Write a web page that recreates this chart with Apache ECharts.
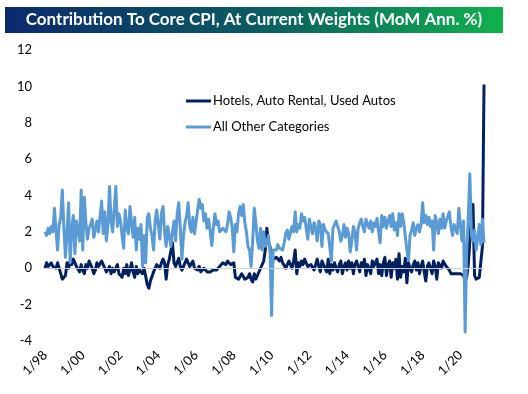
<!DOCTYPE html>
<html><head><meta charset="utf-8">
<script src="https://cdn.jsdelivr.net/npm/echarts@6/dist/echarts.min.js"></script>
<style>html,body{margin:0;padding:0;background:#fff}#c{width:528px;height:394px}</style>
</head><body><div id="c"></div>
<script>
// Monthly, Jan 1998 .. Apr 2021
const startYear = 1998, startMonth = 1, monthCount = 280;
const hotelsAutos = [
 0.0,0.3,0.1,0.2,0.3,0.1,0.2,0.0,0.3,0.2,-0.3,-0.6,
 -0.7,-0.4,0.3,0.0,0.4,0.2,0.5,0.6,0.1,0.0,-0.2,0.2,
 -0.1,-0.3,0.2,0.0,0.4,0.2,0.0,-0.3,-0.1,0.3,0.1,0.0,
 0.4,0.2,0.0,-0.2,-0.1,0.1,-0.3,0.0,-0.2,-0.1,0.2,-0.3,
 -0.2,-0.5,0.0,-0.3,0.2,-0.4,-0.1,0.3,-0.2,-0.5,0.1,-0.3,
 -0.1,-0.2,-0.3,0.0,-0.1,-0.9,-1.1,-0.7,-0.6,-0.2,0.0,0.2,
 0.1,0.0,0.3,0.5,0.3,-0.6,0.2,0.5,0.4,1.4,0.3,0.1,
 0.2,0.55,0.1,-0.1,0.1,0.2,0.5,0.3,0.1,0.2,0.4,0.0,
 0.1,-0.1,0.1,-0.2,-0.1,0.0,-0.1,-0.2,-0.1,-0.2,-0.3,-0.1,
 0.0,-0.1,0.0,0.1,0.2,0.3,0.3,0.2,0.4,0.3,0.2,0.3,
 0.3,-0.5,-0.4,-0.6,-0.5,-0.3,-0.4,-0.6,-0.7,-0.5,-0.3,-0.6,
 -0.75,-0.3,-0.6,-0.4,-0.3,0.0,-0.1,0.4,1.0,2.2,1.4,1.2,
 -0.1,0.5,0.4,0.6,0.5,0.4,0.6,0.3,0.3,0.0,0.2,0.4,
 0.2,0.0,0.4,1.0,-0.3,0.3,0.1,0.4,0.2,0.5,0.3,0.1,
 0.0,0.2,0.1,-0.1,0.0,0.5,0.1,-0.2,0.4,0.2,0.0,-0.2,
 0.5,-0.3,0.2,-0.1,0.3,0.0,-0.2,0.2,0.4,-0.3,0.1,0.3,
 -0.1,0.4,0.0,0.3,-0.3,0.2,0.4,0.1,-0.2,0.3,0.1,0.5,
 -0.4,0.2,0.3,-0.3,0.4,0.1,0.0,0.5,-0.3,0.2,-0.4,0.3,
 0.6,-0.4,0.2,0.4,-0.5,0.3,0.0,0.5,-0.6,0.8,-0.5,0.1,
 -0.2,0.55,-0.8,0.3,0.0,-0.2,0.2,0.4,-0.1,0.3,-0.3,0.1,
 0.4,-0.2,-0.7,0.1,0.3,0.0,-0.3,0.4,0.1,-0.6,0.3,0.2,
 0.0,0.4,0.3,0.1,0.2,-0.1,-0.3,-0.3,-0.3,-0.3,-0.3,-0.3,
 -0.3,-0.3,-0.4,-0.7,-0.5,0.2,1.5,2.8,3.5,-0.4,-0.6,-0.5,
 -0.5,-0.4,1.2,10.1
];
const allOther = [
 2.0,1.8,2.2,1.9,2.3,2.0,3.3,2.1,1.0,2.4,2.8,4.3,
 2.2,0.6,2.0,3.6,0.3,2.2,2.9,0.8,2.6,2.1,1.5,4.3,
 1.0,3.9,2.5,1.6,2.2,2.4,2.7,1.7,2.1,2.6,2.0,1.9,
 3.7,1.9,3.1,1.5,2.4,4.5,2.6,2.0,1.9,4.5,2.3,3.0,
 2.6,1.8,1.1,3.2,2.2,1.9,3.4,2.5,1.7,2.8,1.0,2.2,
 1.6,2.4,0.1,1.8,0.3,2.8,3.0,2.2,1.8,1.0,2.6,3.2,
 2.4,1.6,3.0,3.4,2.0,1.2,2.3,2.4,1.2,2.0,2.6,1.5,
 3.0,3.6,2.2,0.5,1.8,2.5,2.9,3.6,2.3,2.0,2.8,1.9,
 2.0,3.2,3.8,3.3,3.5,2.6,3.0,2.2,2.7,2.0,1.25,2.2,
 3.0,2.4,2.6,2.0,1.9,2.2,2.1,2.0,2.4,3.1,2.8,2.2,
 0.9,2.4,2.0,3.0,3.4,2.9,3.5,2.5,2.0,1.2,1.0,0.1,
 1.5,3.3,2.5,1.5,1.1,2.2,1.0,2.0,1.2,1.4,1.8,1.0,
 -2.6,1.0,0.9,1.0,1.3,1.1,1.2,1.0,1.4,1.9,2.1,1.6,
 1.5,2.3,2.0,3.1,2.0,2.4,2.2,3.0,2.6,2.8,2.9,1.6,
 2.7,2.3,1.9,2.5,2.2,1.5,2.6,2.4,1.2,2.4,2.1,2.2,
 1.9,1.8,0.4,2.2,2.4,2.6,2.5,2.0,1.5,1.8,2.4,1.7,
 2.2,1.9,0.9,1.5,2.3,2.0,1.0,2.2,2.5,2.7,2.3,2.0,
 2.7,2.6,2.2,2.6,2.0,2.5,2.3,2.75,2.0,1.4,2.9,2.3,
 2.8,2.2,2.6,2.9,2.3,3.0,2.1,2.5,1.8,3.0,2.3,3.0,
 2.5,2.5,1.0,0.45,1.8,2.1,2.5,1.8,2.2,2.4,2.0,2.4,
 3.6,2.5,2.9,2.4,2.8,2.3,2.6,1.0,2.9,2.5,1.9,2.7,
 2.2,3.0,2.2,2.6,2.5,3.1,2.3,1.8,2.4,2.2,1.9,3.3,
 2.4,1.5,2.6,-3.5,1.0,2.8,5.2,1.8,1.5,2.1,1.0,1.6,
 2.4,1.3,2.7,1.4
];
const yTicks = { min: -4, max: 12, interval: 2 };
const seriesNames = ['Hotels, Auto Rental, Used Autos', 'All Other Categories'];
const titleText = 'Contribution To Core CPI, At Current Weights (MoM Ann. %)';

const categories = [];
for (let i = 0; i < monthCount; i++) {
  const m = (startMonth - 1 + i) % 12 + 1;
  const y = startYear + Math.floor((startMonth - 1 + i) / 12);
  categories.push(m + '/' + String(y % 100).padStart(2, '0'));
}

const FONT = 'Lato';
const chart = echarts.init(document.getElementById('c'), null, { renderer: 'canvas' });
chart.setOption({
  animation: false,
  backgroundColor: '#ffffff',
  graphic: [
    { type: 'rect', shape: { x: 5, y: 7, width: 498, height: 26 },
      style: { fill: new echarts.graphic.LinearGradient(0, 0, 1, 0, [
        { offset: 0, color: '#0b2a6e' }, { offset: 0.5, color: '#0a5a62' }, { offset: 1, color: '#10b14c' }]) } },
    { type: 'text', x: 254, y: 20,
      style: { text: titleText, fill: '#ffffff', font: 'bold 17px ' + FONT, align: 'center', verticalAlign: 'middle' } }
  ],
  grid: { left: 45, right: 44, top: 50, bottom: 53, containLabel: false },
  legend: {
    orient: 'vertical', left: 181, top: 88, itemGap: 10,
    itemWidth: 25, itemHeight: 3, icon: 'rect',
    textStyle: { fontFamily: FONT, fontSize: 13, color: '#000', lineHeight: 16, padding: [0,0,0,-3] },
    data: seriesNames
  },
  xAxis: {
    type: 'category', data: categories, boundaryGap: false,
    axisLine: { show: false }, axisTick: { show: false },
    axisLabel: { interval: (idx) => idx % 24 === 0, rotate: 45, margin: 12,
      fontFamily: FONT, fontSize: 13, color: '#000' },
    splitLine: { show: false }
  },
  yAxis: {
    type: 'value', min: yTicks.min, max: yTicks.max, interval: yTicks.interval,
    axisLine: { show: false }, axisTick: { show: false }, splitLine: { show: false },
    axisLabel: { fontFamily: FONT, fontSize: 13, color: '#000', margin: 13 }
  },
  series: [
    { name: seriesNames[0], type: 'line', data: hotelsAutos, showSymbol: false, symbol: 'none',
      color: '#002060', lineStyle: { width: 3, color: '#002060', join: 'round' },
      markLine: { silent: true, symbol: 'none', label: { show: false },
        lineStyle: { color: '#d0d0d0', width: 1, type: 'solid' }, data: [{ yAxis: 0 }] } },
    { name: seriesNames[1], type: 'line', data: allOther, showSymbol: false, symbol: 'none',
      color: '#5b9bd5', lineStyle: { width: 3, color: '#5b9bd5', join: 'round' } }
  ]
});
</script></body></html>
